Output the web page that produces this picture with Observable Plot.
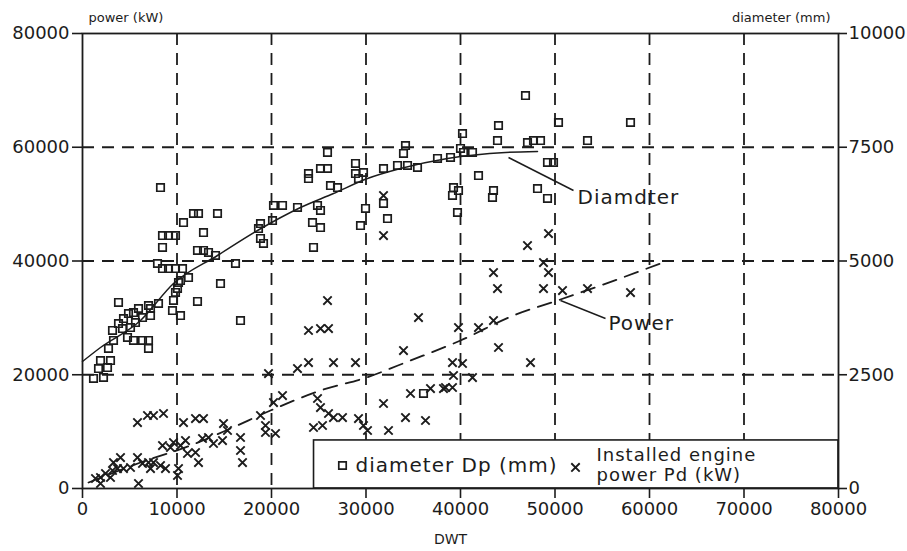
<!DOCTYPE html>
<html>
<head>
<meta charset="utf-8">
<script src="https://cdn.jsdelivr.net/npm/d3@7"></script>
<script src="https://cdn.jsdelivr.net/npm/@observablehq/plot@0.6"></script>
<style>
  html, body { margin: 0; padding: 0; background: #fff; }
</style>
</head>
<body>
<div id="chart"></div>
<script>
// Propeller diameter Dp (mm) vs DWT (squares, right axis)
const diamDwt = [1164,2222,1693,2645,1905,2963,2751,3280,3175,3810,4339,4868,5397,5926,6984,8042,3810,4233,5079,5608,6349,7196,7196,4762,5397,6349,6984,6984,9630,9841,9524,10370,12169,16720,10370,14603,8254,10688,11746,12275,14286,12804,8466,9101,9841,8466,12169,12804,13333,14074,7937,8466,9101,9841,10582,11217,10159,10053,16190,25926,23915,25185,25926,23915,26243,26984,28889,28889,29206,29735,31852,33333,34392,35450,34180,33968,20212,21164,22751,20106,18836,18624,19153,24339,25185,24868,25185,29947,29418,31852,32275,24444,18836,46878,44021,43915,40212,40000,37566,38942,40317,41270,47090,47725,48466,50370,53439,57990,49206,49841,41905,39259,39153,39788,43492,43386,48148,49206,39683,36085];
const diamMm  = [2418,2440,2637,2659,2813,2813,3077,3253,3473,3626,3736,3846,3868,3956,4022,4066,4088,3516,3538,3648,3758,3802,3956,3319,3253,3253,3253,3077,4132,4308,3912,3802,4110,3692,4571,4505,6615,5846,6044,6044,6044,5626,5560,5560,5560,5297,5231,5231,5187,5121,4945,4835,4835,4835,4835,4637,4527,4396,4945,7385,6923,7033,7033,6813,6659,6615,7143,6923,6813,6945,7033,7099,7099,7055,7538,7363,6220,6220,6176,5890,5824,5714,5385,5846,5736,6220,6110,6154,5780,6264,5934,5297,5495,8637,7978,7648,7802,7473,7253,7275,7385,7385,7604,7648,7648,8044,7648,8044,7165,7165,6879,6615,6440,6549,6549,6396,6593,6374,6066,2088];

// Installed engine power Pd (kW) vs DWT (crosses, left axis)
const powerDwt = [5820,6878,7513,8571,10688,11958,12804,14921,15344,16720,16720,16931,19365,1376,1905,2434,3175,3704,4021,4339,5079,5820,6349,6984,7513,8254,8466,9312,9630,10370,10899,11111,11958,12275,12698,13333,13862,14815,10053,10159,5926,1905,8783,7196,3280,2963,25926,23915,25185,26032,35556,33968,22751,23915,26561,28889,19683,21164,20212,18836,19365,20423,24868,25185,26032,26561,27513,24444,25397,29206,29735,30159,31852,32381,34180,36296,34709,36825,38201,49312,47090,48783,49312,43492,43915,48783,50794,53439,57990,39788,41905,43492,44021,47407,39153,40212,39259,41270,38413,39153,31852,31852];
const powerKw  = [11604,12835,12835,13187,11604,12307,12307,11428,10198,8967,6681,4571,9846,1758,1934,2637,3165,3516,5450,3516,3692,5450,4396,4571,4571,4044,7560,7209,8088,7560,8439,6154,6330,4571,8791,8967,7912,8439,2286,3516,879,879,3516,3516,4571,1934,33054,27780,28131,28131,30065,24263,21098,22153,22153,22153,20219,16351,15120,12835,11077,9670,15824,14241,13187,12483,12483,10725,11077,12307,11077,10198,14945,10198,12483,11956,16703,17582,17582,44834,42724,39735,37977,37977,35164,35164,34812,35164,34461,28307,28307,29538,24791,22153,22153,21978,19868,19516,17758,17758,51515,44482];

// Fitted trend curves
const diamCurveDwt = [0,1905,6138,9630,14286,18519,23069,26561,30159,33651,38624,44762,48148];
const diamCurveMm  = [2791,3099,3692,4505,5121,5670,6176,6484,6813,7033,7253,7385,7407];
const powerCurveDwt = [635,6138,11428,15661,19894,25185,30053,34709,40000,45608,50265,54815,61164];
const powerCurveKw  = [1055,4571,7560,10549,13714,17230,19516,22505,26021,30417,33054,35692,39560];

const xTicks = [0,10000,20000,30000,40000,50000,60000,70000,80000];
const powerTicks = [0,20000,40000,60000,80000];
const diamTicks = [0,2500,5000,7500,10000];
const ratio = 80000 / 10000; // diameter -> left axis units

const ink = "#1c1c1c";
const fontFamily = "'DejaVu Sans', sans-serif";

const diamPts = diamDwt.map((x, i) => ({x, y: diamMm[i] * ratio}));
const powerPts = powerDwt.map((x, i) => ({x, y: powerKw[i]}));
const diamLine = diamCurveDwt.map((x, i) => ({x, y: diamCurveMm[i] * ratio}));
const powerLine = powerCurveDwt.map((x, i) => ({x, y: powerCurveKw[i]}));

// annotations (data units)
const legendBox = [{x1: 24500, x2: 80000, y1: 0, y2: 8450}];
const diamLeader = [{x1: 45079, y1: 58196, x2: 51958, y2: 52394}];
const powerLeader = [{x1: 50582, y1: 33054, x2: 55344, y2: 29890}];

const chart = Plot.plot({
  width: 907,
  height: 551,
  marginLeft: 82,
  marginRight: 69,
  marginTop: 33,
  marginBottom: 63,
  style: {fontFamily, fontSize: "16px", color: ink, background: "#fff"},
  x: {domain: [0, 80000]},
  y: {domain: [0, 80000]},
  marks: [
    Plot.gridX(xTicks.slice(1, -1), {stroke: ink, strokeOpacity: 1, strokeWidth: 1.8, strokeDasharray: "12,8"}),
    Plot.gridY(powerTicks.slice(1, -1), {stroke: ink, strokeOpacity: 1, strokeWidth: 1.8, strokeDasharray: "12,8"}),
    Plot.rect(legendBox, {x1: "x1", x2: "x2", y1: "y1", y2: "y2", fill: "#fff", stroke: ink, strokeWidth: 1.6}),
    Plot.line(diamLine, {x: "x", y: "y", stroke: ink, strokeWidth: 1.5, curve: "monotone-x"}),
    Plot.line(powerLine, {x: "x", y: "y", stroke: ink, strokeWidth: 1.8, strokeDasharray: "14,9", curve: "monotone-x"}),
    Plot.link(diamLeader, {x1: "x1", y1: "y1", x2: "x2", y2: "y2", stroke: ink, strokeWidth: 1.5}),
    Plot.link(powerLeader, {x1: "x1", y1: "y1", x2: "x2", y2: "y2", stroke: ink, strokeWidth: 1.5}),
    Plot.dot(diamPts, {x: "x", y: "y", symbol: "square", r: 4.2, stroke: ink, strokeWidth: 1.7, fill: "none"}),
    Plot.dot(powerPts, {x: "x", y: "y", symbol: "times", r: 3.9, stroke: ink, strokeWidth: 1.9}),
    Plot.text(["Diamdter"], {x: 52381, y: 51164, textAnchor: "start", fontSize: 20, fill: ink}),
    Plot.text(["Power"], {x: 55661, y: 29010, textAnchor: "start", fontSize: 20, fill: ink}),
    // legend contents
    Plot.dot([0], {x: 27513, y: 4044, symbol: "square", r: 4.2, stroke: ink, strokeWidth: 1.7, fill: "none"}),
    Plot.text(["diameter Dp (mm)"], {x: 28889, y: 4044, textAnchor: "start", fontSize: 20, fill: ink}),
    Plot.dot([0], {x: 52169, y: 3700, symbol: "times", r: 3.9, stroke: ink, strokeWidth: 1.9}),
    Plot.text(["Installed engine"], {x: 54392, y: 5900, textAnchor: "start", fontSize: 18, fill: ink}),
    Plot.text(["power Pd (kW)"], {x: 54392, y: 2300, textAnchor: "start", fontSize: 18, fill: ink}),
    // axes
    Plot.axisY(powerTicks, {anchor: "left", tickSize: 10, tickPadding: 3, tickFormat: d3.format("d"), label: null, fontSize: 18, strokeWidth: 1.6}),
    Plot.axisY(powerTicks, {anchor: "right", tickSize: 8, tickPadding: 2, tickFormat: d => d3.format("d")(d / ratio), label: null, fontSize: 18, strokeWidth: 1.6}),
    Plot.axisX(xTicks, {anchor: "bottom", tickSize: 10, tickPadding: 4, tickFormat: d3.format("d"), label: null, fontSize: 18, strokeWidth: 1.6}),
    Plot.text(["power (kW)"], {frameAnchor: "top-left", dx: 6, dy: -21, textAnchor: "start", fontSize: 13, fill: ink}),
    Plot.text(["diameter (mm)"], {frameAnchor: "top-right", dx: -8, dy: -21, textAnchor: "end", fontSize: 13, fill: ink}),
    Plot.text(["DWT"], {frameAnchor: "bottom", dx: -10, dy: 55, fontSize: 14, fill: ink}),
    Plot.frame({stroke: ink, strokeWidth: 1.8})
  ]
});
// wider letter spacing on annotation texts, like the plotter lettering
d3.select(chart).selectAll("text")
  .filter(function() { return ["Diamdter", "Power", "diameter Dp (mm)", "Installed engine", "power Pd (kW)"].includes(this.textContent); })
  .style("letter-spacing", "1px");
document.getElementById("chart").appendChild(chart);
</script>
</body>
</html>
